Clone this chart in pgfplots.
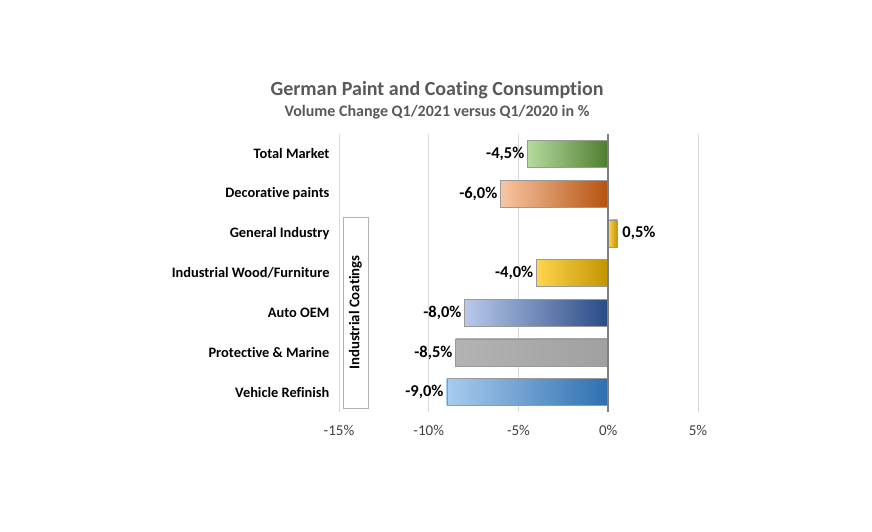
\documentclass[border=0pt]{standalone}
\usepackage{fontspec}
\setmainfont{Carlito}[Ligatures=NoCommon]
\usepackage{pgfplots}
\pgfplotsset{compat=1.18}
\definecolor{titlegray}{HTML}{595959}
\definecolor{ticktxt}{HTML}{404040}
\definecolor{gridc}{HTML}{D9D9D9}
\definecolor{zeroc}{HTML}{7F7F7F}
\definecolor{gL}{HTML}{B5DB9C}\definecolor{gM}{HTML}{70AD47}\definecolor{gR}{HTML}{4E7D30}
\definecolor{oL}{HTML}{F8C6A4}\definecolor{oM}{HTML}{ED7D31}\definecolor{oR}{HTML}{B5520F}
\definecolor{yL}{HTML}{FFD54F}\definecolor{yM}{HTML}{FFC000}\definecolor{yR}{HTML}{C49400}
\definecolor{bL}{HTML}{B8C9EA}\definecolor{bM}{HTML}{4472C4}\definecolor{bR}{HTML}{2A4A86}
\definecolor{pL}{HTML}{B3B3B3}\definecolor{pR}{HTML}{A0A0A0}
\definecolor{lL}{HTML}{A8CCEE}\definecolor{lM}{HTML}{5B9BD5}\definecolor{lR}{HTML}{2E6FB0}
\begin{document}
\begin{tikzpicture}
\path[use as bounding box] (0,0) rectangle (872pt,532pt);
\fill[white] (0,0) rectangle (872pt,532pt);
\node[font=\bfseries\fontsize{20}{23}\selectfont, text=titlegray] at (437pt,442pt) {German Paint and Coating Consumption};
\node[font=\bfseries\fontsize{16}{19}\selectfont, text=titlegray] at (437pt,420pt) {Volume Change Q1/2021 versus Q1/2020 in \%};
\begin{axis}[
  at={(339pt,120pt)}, anchor=south west,
  scale only axis, width=359pt, height=278pt,
  xmin=-15, xmax=5, ymin=-0.5, ymax=6.5, y dir=reverse,
  xbar, bar width=27pt, bar shift=0pt,
  axis line style={draw=none},
  xtick={-15,-10,-5,0,5},
  xticklabels={-15\%,-10\%,-5\%,0\%,5\%},
  ytick={0,1,2,3,4,5,6},
  yticklabels={Total Market,Decorative paints,General Industry,Industrial Wood/Furniture,Auto OEM,Protective \& Marine,Vehicle Refinish},
  major tick length=0pt,
  xmajorgrids, major grid style={gridc, line width=0.8pt},
  xticklabel style={font=\fontsize{15}{17}\selectfont, text=ticktxt, yshift=-10pt},
  yticklabel style={font=\bfseries\fontsize{14.4}{17}\selectfont, text=black, xshift=-6pt},
  /pgf/number format/assume math mode=true,
  point meta=x,
  nodes near coords={\pgfmathprintnumber[fixed,fixed zerofill,precision=1,use comma]{\pgfplotspointmeta}\%},
  nodes near coords style={font=\bfseries\fontsize{16.5}{19}\selectfont, text=black, anchor=east, inner sep=3pt},
]
\addplot[draw=gray!80, left color=gL, middle color=gM, right color=gR] coordinates {(-4.5,0)};
\addplot[draw=gray!80, left color=oL, middle color=oM, right color=oR] coordinates {(-6.0,1)};
\addplot[draw=gray!80, left color=yL, middle color=yM, right color=yR, nodes near coords style={anchor=west, inner sep=5pt}] coordinates {(0.5,2)};
\addplot[draw=gray!80, left color=yL, middle color=yM, right color=yR] coordinates {(-4.0,3)};
\addplot[draw=gray!80, left color=bL, middle color=bM, right color=bR] coordinates {(-8.0,4)};
\addplot[draw=gray!80, left color=pL, right color=pR] coordinates {(-8.5,5)};
\addplot[draw=gray!80, left color=lL, middle color=lM, right color=lR] coordinates {(-9.0,6)};
\draw[zeroc, line width=1.8pt] (axis cs:0,-0.5) -- (axis cs:0,6.5);
\end{axis}
\node[draw=gray!60, fill=white, rotate=90, minimum width=191pt, minimum height=25pt, inner sep=0pt, font=\bfseries\fontsize{14.8}{17}\selectfont] at (355.5pt,219.5pt) {Industrial Coatings};
\end{tikzpicture}
\end{document}
